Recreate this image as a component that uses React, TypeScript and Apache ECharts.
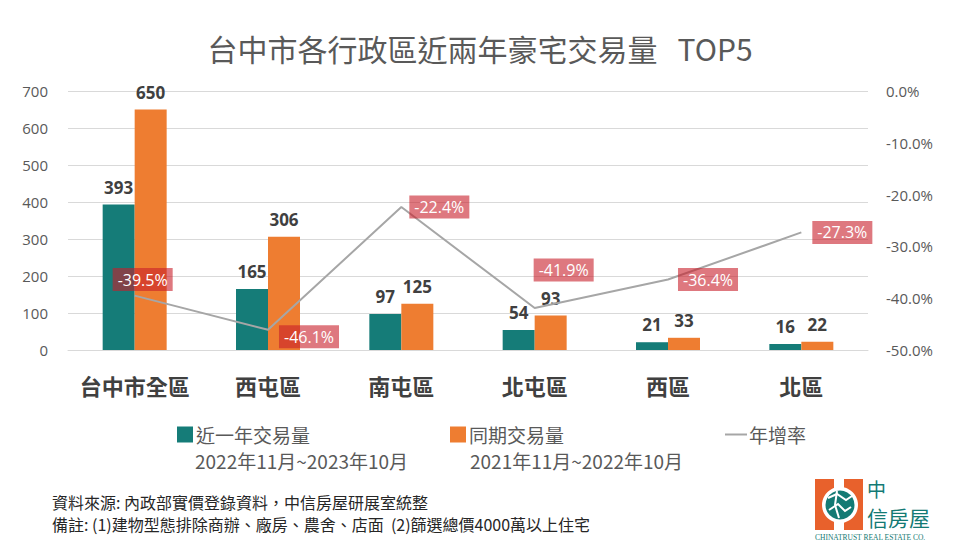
import React, { useEffect, useRef } from "react";
import * as echarts from "echarts";

const categories = ["台中市全區", "西屯區", "南屯區", "北屯區", "西區", "北區"];
const recentVolume = [393, 165, 97, 54, 21, 16];
const priorVolume = [650, 306, 125, 93, 33, 22];
const yoyRate = [-39.5, -46.1, -22.4, -41.9, -36.4, -27.3];
const leftTicks = { min: 0, max: 700, interval: 100 };
const rightTicks = { min: -50, max: 0, interval: 10 };

const seriesNames = ["近一年交易量", "同期交易量", "年增率"];
const periodTexts = ["2022年11月~2023年10月", "2021年11月~2022年10月"];
const titleText = "台中市各行政區近兩年豪宅交易量   TOP5";
const noteLines = [
  "資料來源: 內政部實價登錄資料，中信房屋研展室統整",
  "備註: (1)建物型態排除商辦、廠房、農舍、店面  (2)篩選總價4000萬以上住宅",
];

const TEAL = "#157c78";
const ORANGE = "#ee7d31";
const GRAY = "#a6a6a6";
const CJK = "'Noto Sans CJK TC', 'Noto Sans', sans-serif";
const NUM = "'Open Sans', 'Noto Sans CJK TC', sans-serif";

const rateLabelOffsets: [number, number][] = [
  [8, -16],
  [41, 7],
  [38, 0],
  [29, -38],
  [40, 0],
  [41, 0],
];

export default function App() {
  const ref = useRef<HTMLDivElement>(null);

  useEffect(() => {
    if (!ref.current) return;
    const chart = echarts.init(ref.current, undefined, { renderer: "svg" });

    const legendText = { fontSize: 19, color: "#595959", fontFamily: CJK, padding: [0, 0, 0, -2] };

    const option: any = {
      animation: false,
      backgroundColor: "#ffffff",
      textStyle: { fontFamily: CJK },
      title: {
        text: titleText,
        left: "center",
        top: 28,
        textStyle: { fontSize: 30, fontWeight: "normal", color: "#595959", fontFamily: CJK },
      },
      grid: { left: 68, right: 92, top: 91, bottom: 204, containLabel: false },
      legend: [
        {
          data: [seriesNames[0]],
          left: 172,
          top: 420,
          icon: "rect",
          itemWidth: 16,
          itemHeight: 16,
          textStyle: legendText,
        },
        {
          data: [seriesNames[1]],
          left: 445,
          top: 420,
          icon: "rect",
          itemWidth: 16,
          itemHeight: 16,
          textStyle: legendText,
        },
        {
          data: [seriesNames[2]],
          left: 720,
          top: 420,
          icon: "rect",
          itemWidth: 22,
          itemHeight: 2,
          textStyle: { ...legendText, padding: [0, 0, 0, -3] },
        },
      ],
      xAxis: {
        type: "category",
        data: categories,
        axisLine: { lineStyle: { color: "#d9d9d9" } },
        axisTick: { show: false },
        axisLabel: {
          interval: 0,
          fontSize: 22,
          fontWeight: "bold",
          color: "#404040",
          margin: 24,
          fontFamily: CJK,
        },
      },
      yAxis: [
        {
          type: "value",
          min: leftTicks.min,
          max: leftTicks.max,
          interval: leftTicks.interval,
          axisLine: { show: false },
          axisTick: { show: false },
          splitLine: { lineStyle: { color: "#d9d9d9" } },
          axisLabel: { fontSize: 15, color: "#595959", margin: 20, fontFamily: NUM },
        },
        {
          type: "value",
          min: rightTicks.min,
          max: rightTicks.max,
          interval: rightTicks.interval,
          axisLine: { show: false },
          axisTick: { show: false },
          splitLine: { show: false },
          axisLabel: {
            fontSize: 15,
            color: "#595959",
            margin: 18,
            fontFamily: NUM,
            formatter: (v: number) => v.toFixed(1) + "%",
          },
        },
      ],
      series: [
        {
          name: seriesNames[0],
          type: "bar",
          data: recentVolume,
          barWidth: 32,
          barGap: "0%",
          itemStyle: { color: TEAL },
          label: {
            show: true,
            position: "top",
            distance: 9,
            fontSize: 17,
            fontWeight: "bold",
            color: "#404040",
            fontFamily: NUM,
          },
          z: 2,
        },
        {
          name: seriesNames[1],
          type: "bar",
          data: priorVolume,
          barWidth: 32,
          barGap: "0%",
          itemStyle: { color: ORANGE },
          label: {
            show: true,
            position: "top",
            distance: 9,
            fontSize: 17,
            fontWeight: "bold",
            color: "#404040",
            fontFamily: NUM,
          },
          z: 2,
        },
        {
          name: seriesNames[2],
          type: "line",
          yAxisIndex: 1,
          data: yoyRate.map((v, i) => ({ value: v, label: { offset: rateLabelOffsets[i] } })),
          symbol: "circle",
          symbolSize: 0.1,
          showSymbol: true,
          itemStyle: { color: GRAY },
          lineStyle: { color: GRAY, width: 2 },
          z: 5,
          label: {
            show: true,
            position: "inside",
            formatter: (p: any) => Number(p.value).toFixed(1) + "%",
            color: "#ffffff",
            fontSize: 16,
            fontFamily: NUM,
            backgroundColor: "rgba(200, 30, 42, 0.6)",
            padding: [4, 5, 3, 5],
          },
        },
      ],
      graphic: [
        {
          type: "text",
          left: 195,
          top: 451,
          style: { text: periodTexts[0], fontSize: 19, fill: "#595959", fontFamily: CJK },
        },
        {
          type: "text",
          left: 470,
          top: 451,
          style: { text: periodTexts[1], fontSize: 19, fill: "#595959", fontFamily: CJK },
        },
        {
          type: "text",
          left: 52,
          top: 494,
          style: { text: noteLines[0], fontSize: 16, fill: "#262626", fontFamily: CJK },
        },
        {
          type: "text",
          left: 52,
          top: 516,
          style: { text: noteLines[1], fontSize: 16, fill: "#262626", fontFamily: CJK },
        },
        // logo
        {
          type: "group",
          left: 815,
          top: 479,
          children: [
            { type: "rect", shape: { x: 0, y: 0, width: 48, height: 51 }, style: { fill: "#e8612c" } },
            { type: "rect", shape: { x: 19, y: 0, width: 10, height: 12 }, style: { fill: "#ffffff" } },
            { type: "rect", shape: { x: 19, y: 39, width: 10, height: 12 }, style: { fill: "#ffffff" } },
            { type: "circle", shape: { cx: 25, cy: 26, r: 18 }, style: { fill: "#ffffff" } },
            { type: "circle", shape: { cx: 25, cy: 26, r: 14.5 }, style: { fill: "#137a74" } },
            {
              type: "polyline",
              shape: { points: [[13, 19], [22, 15], [31, 21], [37, 17]] },
              style: { stroke: "#ffffff", lineWidth: 2, fill: "none" },
            },
            {
              type: "polyline",
              shape: { points: [[14, 31], [23, 25], [30, 32], [36, 28]] },
              style: { stroke: "#ffffff", lineWidth: 2, fill: "none" },
            },
            {
              type: "polyline",
              shape: { points: [[22, 12], [20, 26], [24, 39]] },
              style: { stroke: "#ffffff", lineWidth: 2, fill: "none" },
            },
            {
              type: "text",
              x: 52,
              y: 0,
              style: { text: "中", fontSize: 19, fill: "#137a74", fontFamily: CJK },
            },
            {
              type: "text",
              x: 52,
              y: 27,
              style: { text: "信房屋", fontSize: 21, fill: "#137a74", fontFamily: CJK },
            },
            {
              type: "text",
              x: 0,
              y: 54,
              style: {
                text: "CHINATRUST REAL ESTATE CO.",
                fontSize: 7.5,
                fill: "#137a74",
                fontFamily: "'Liberation Serif', serif",
              },
            },
          ],
        },
      ],
    };

    chart.setOption(option);
    return () => chart.dispose();
  }, []);

  return (
    <div
      ref={ref}
      style={{ position: "fixed", left: 0, top: 0, width: 960, height: 554, background: "#fff" }}
    />
  );
}
